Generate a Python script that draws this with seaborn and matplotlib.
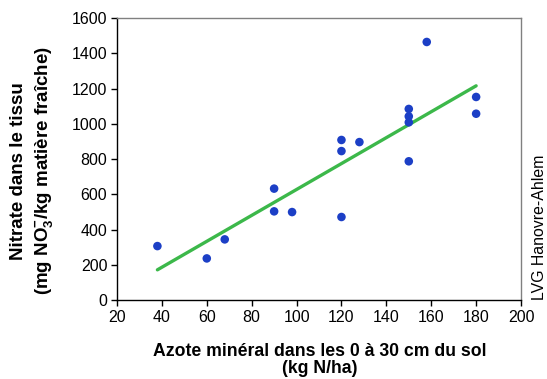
import numpy as np
import pandas as pd
import matplotlib
matplotlib.use("Agg")
import matplotlib.pyplot as plt
import seaborn as sns

# soil mineral N (kg N/ha) and nitrate in tissue (mg NO3-/kg fresh matter)
azote = [38, 60, 68, 90, 90, 98, 120, 120, 120, 128, 150, 150, 150, 150, 158, 180, 180]
nitrate = [306, 236, 344, 632, 503, 499, 908, 845, 471, 896, 1084, 1042, 1008, 787, 1464, 1152, 1057]

x_ticks = [20, 40, 60, 80, 100, 120, 140, 160, 180, 200]
y_ticks = [0, 200, 400, 600, 800, 1000, 1200, 1400, 1600]

df = pd.DataFrame({"azote": azote, "nitrate": nitrate})

sns.set_style("white")
plt.rcParams["font.family"] = ["Liberation Sans", "DejaVu Sans"]
plt.rcParams["text.color"] = "black"
plt.rcParams["mathtext.fontset"] = "custom"
plt.rcParams["mathtext.rm"] = "Liberation Sans"
plt.rcParams["mathtext.bf"] = "Liberation Sans:bold"

fig = plt.figure(figsize=(5.47, 3.79), dpi=100)
ax = fig.add_axes([0.2139, 0.2084, 0.7386, 0.7441])

sns.regplot(
    ax=ax, data=df, x="azote", y="nitrate", ci=None,
    scatter_kws=dict(s=38, color="#1c3fc6", edgecolor="none", alpha=1, zorder=3),
    line_kws=dict(color="#3cb84a", lw=2.4, zorder=2),
)

ax.set_xlim(20, 200)
ax.set_ylim(0, 1600)
ax.set_xticks(x_ticks)
ax.set_yticks(y_ticks)
ax.tick_params(axis="both", which="both", direction="out", length=4, width=1,
               labelsize=11.5, bottom=True, left=True, colors="black", pad=3)
for s in ["left", "bottom"]:
    ax.spines[s].set_color("black")
    ax.spines[s].set_linewidth(1)
for s in ["top", "right"]:
    ax.spines[s].set_color("#808080")
    ax.spines[s].set_linewidth(1)

ax.set_xlabel("")
ax.set_ylabel("")

fig.text(320 / 547, 1 - 360 / 379,
         "Azote minéral dans les 0 à 30 cm du sol\n(kg N/ha)",
         ha="center", va="center", fontsize=12.7, fontweight="bold", linespacing=1.05,
         color="black")
fig.text(33 / 547, 1 - 171 / 379,
         "Nitrate dans le tissu\n(mg $\\mathbf{NO_3^{-}}$/kg matière fraîche)",
         ha="center", va="center", rotation=90, fontsize=13.5, fontweight="bold",
         linespacing=1.4, color="black")

fig.text(540 / 547, 0.2084, "LVG Hanovre-Ahlem", rotation=90, ha="center", va="bottom",
         fontsize=11.4, color="black")

fig.savefig("out.png", dpi=100)
